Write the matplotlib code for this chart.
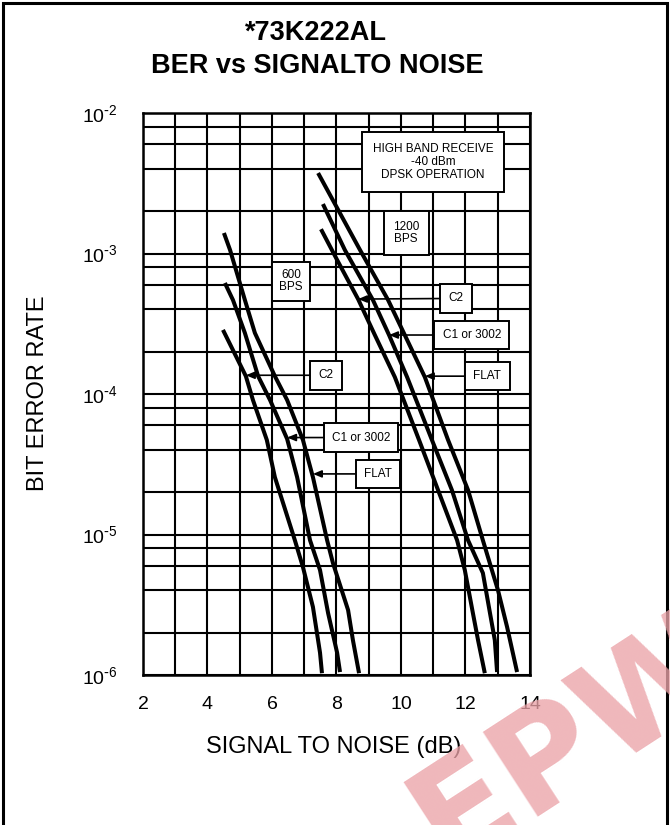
import numpy as np
import matplotlib
matplotlib.use("Agg")
import matplotlib.pyplot as plt
from matplotlib.ticker import LogLocator, MultipleLocator, FixedLocator, NullFormatter, FuncFormatter
from matplotlib.patches import Rectangle

plt.rcParams['font.family'] = ['Liberation Sans', 'DejaVu Sans']
plt.rcParams['axes.unicode_minus'] = False

# 1200 BPS curves (signal to noise in dB, bit error rate)
snr_1200_flat = [7.43, 8.73, 9.60, 10.74, 11.46, 12.08, 12.54, 13.01, 13.29, 13.60]
ber_1200_flat = [3.74e-3, 1.06e-3, 4.67e-4, 1.32e-4, 4.71e-5, 2.07e-5, 9.1e-6, 4.0e-6, 2.2e-6, 1.05e-6]

snr_1200_c1 = [7.58, 8.26, 9.13, 9.63, 10.19, 10.96, 11.58, 12.08, 12.54, 12.76, 12.91, 12.98]
ber_1200_c1 = [2.25e-3, 1.06e-3, 4.67e-4, 2.63e-4, 1.32e-4, 4.71e-5, 2.07e-5, 9.1e-6, 5.32e-6, 2.76e-6, 1.77e-6, 1.05e-6]

snr_1200_c2 = [7.52, 8.02, 8.67, 9.19, 9.81, 10.56, 11.15, 11.74, 11.98, 12.23, 12.39, 12.60]
ber_1200_c2 = [1.49e-3, 9.0e-4, 4.74e-4, 2.63e-4, 1.32e-4, 4.71e-5, 2.07e-5, 9.1e-6, 5.58e-6, 2.76e-6, 1.77e-6, 1.03e-6]

# 600 BPS curves
snr_600_flat = [4.51, 4.70, 5.16, 5.47, 6.09, 6.47, 6.96, 7.27, 7.71, 7.89, 8.36, 8.51, 8.70]
ber_600_flat = [1.40e-3, 1.06e-3, 4.67e-4, 2.72e-4, 1.34e-4, 9.06e-5, 4.71e-5, 2.56e-5, 9.1e-6, 6.27e-6, 2.90e-6, 1.77e-6, 1.03e-6]

snr_600_c1 = [4.54, 4.79, 5.16, 5.57, 5.94, 6.47, 6.78, 7.18, 7.49, 7.74, 8.02, 8.11]
ber_600_c1 = [6.17e-4, 4.67e-4, 2.72e-4, 1.34e-4, 9.06e-5, 4.79e-5, 2.56e-5, 9.1e-6, 5.58e-6, 2.76e-6, 1.44e-6, 1.05e-6]

snr_600_c2 = [4.48, 5.19, 5.41, 5.84, 6.09, 6.71, 6.96, 7.27, 7.49, 7.55]
ber_600_c2 = [2.86e-4, 1.34e-4, 9.06e-5, 4.71e-5, 2.56e-5, 9.1e-6, 5.87e-6, 3.05e-6, 1.44e-6, 1.03e-6]

x_ticks = [2, 4, 6, 8, 10, 12, 14]

curves = [
    (snr_1200_flat, ber_1200_flat), (snr_1200_c1, ber_1200_c1), (snr_1200_c2, ber_1200_c2),
    (snr_600_flat, ber_600_flat), (snr_600_c1, ber_600_c1), (snr_600_c2, ber_600_c2),
]

fig = plt.figure(figsize=(6.7, 8.25), dpi=100)
ax = fig.add_axes([0.2134, 0.1818, 0.5776, 0.6812])

for snr, ber in curves:
    ax.plot(snr, ber, color='black', lw=2.9, solid_capstyle='butt', zorder=3)


def dec_fmt(v, pos):
    e = int(round(np.log10(v)))
    if e < 0:
        return r'$\mathdefault{10^{\text{-}%d}}$' % (-e)
    return r'$\mathdefault{10^{%d}}$' % e


ax.set_yscale('log')
ax.set_xlim(2, 14)
ax.set_ylim(1e-6, 1e-2)
ax.xaxis.set_major_locator(FixedLocator(x_ticks))
ax.xaxis.set_minor_locator(MultipleLocator(1))
ax.yaxis.set_major_locator(LogLocator(base=10, numticks=10))
ax.yaxis.set_major_formatter(FuncFormatter(dec_fmt))
ax.yaxis.set_minor_locator(LogLocator(base=10, subs=[2, 4, 6, 8], numticks=10))
ax.yaxis.set_minor_formatter(NullFormatter())
ax.grid(True, which='both', color='black', lw=1.5)
ax.tick_params(which='both', length=0, labelsize=14)
ax.tick_params(axis='x', pad=15)
ax.tick_params(axis='y', pad=18)
for s in ax.spines.values():
    s.set_linewidth(1.8)

# annotation boxes
box = dict(boxstyle='square,pad=0.7', fc='white', ec='black', lw=1.4)
ax.text(10.99, 4.48e-3, 'HIGH BAND RECEIVE\n-40 dBm\nDPSK OPERATION', ha='center', va='center',
        fontsize=8.5, linespacing=1.1, bbox=dict(boxstyle='square,pad=0.9', fc='white', ec='black', lw=1.4), zorder=5)
ax.text(10.16, 1.40e-3, '1200\nBPS', ha='center', va='center', fontsize=8.5, linespacing=1.1,
        bbox=dict(boxstyle='square,pad=0.8', fc='white', ec='black', lw=1.4), zorder=5)
ax.text(6.59, 6.37e-4, '600\nBPS', ha='center', va='center', fontsize=8.5, linespacing=1.1,
        bbox=dict(boxstyle='square,pad=0.6', fc='white', ec='black', lw=1.4), zorder=5)

labels = [
    ('C2', (11.71, 4.79e-4), (8.67, 4.74e-4)),
    ('C1 or 3002', (12.20, 2.63e-4), (9.63, 2.63e-4)),
    ('FLAT', (12.68, 1.34e-4), (10.74, 1.34e-4)),
    ('C2', (7.67, 1.36e-4), (5.19, 1.36e-4)),
    ('C1 or 3002', (8.76, 4.90e-5), (6.47, 4.90e-5)),
    ('FLAT', (9.29, 2.70e-5), (7.27, 2.70e-5)),
]
for txt, pos, tip in labels:
    ax.annotate(txt, xy=tip, xytext=pos, ha='center', va='center', fontsize=8.5, bbox=box, zorder=5,
                arrowprops=dict(arrowstyle='-|>,head_length=0.6,head_width=0.25', color='black', lw=1.2,
                                shrinkA=0, shrinkB=0))

fig.text(316 / 670, 1 - 33 / 825, '*73K222AL', ha='center', va='center', fontsize=19.5, fontweight='bold')
fig.text(317 / 670, 1 - 66 / 825, 'BER vs SIGNALTO NOISE', ha='center', va='center', fontsize=19.5, fontweight='bold')
fig.text(38 / 670, 1 - 393 / 825, 'BIT ERROR RATE', rotation=90, ha='center', va='center', fontsize=17)
fig.text(334 / 670, 1 - 747 / 825, 'SIGNAL TO NOISE (dB)', ha='center', va='center', fontsize=17)

# page frame
fig.patches.append(Rectangle((0.004, -0.01), 0.992, 1.006, transform=fig.transFigure,
                             fill=False, ec='black', lw=2.2))

# watermark
fig.text(572 / 670, 1 - 740 / 825, 'EPW', ha='center', va='center', fontsize=100, fontweight='bold', rotation=33,
         color='#eba3a8', alpha=0.78, family='DejaVu Sans', zorder=10)

fig.savefig('out.png', dpi=100)
